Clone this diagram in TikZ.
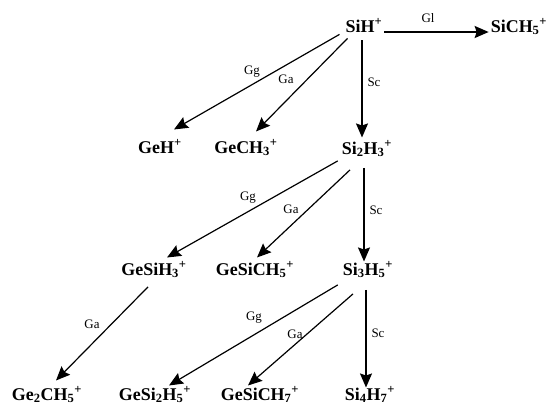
\documentclass[tikz,border=0pt]{standalone}
\usepackage{fontspec}
\setmainfont{Liberation Serif}
\usetikzlibrary{arrows.meta}

\begin{document}
\begin{tikzpicture}[x=1bp, y=-1bp, % coordenadas en pixeles, y hacia abajo
    ion/.style={font=\fontsize{18}{21}\selectfont\bfseries, inner sep=2bp, anchor=base},
    lbl/.style={font=\fontsize{13}{15}\selectfont, inner sep=1bp},
    rxn/.style={-{Stealth[length=14bp, width=12bp, inset=2bp]}, line width=1.2bp}]

    \useasboundingbox (0,0) rectangle (550,408);

    % 1. Iones (anclados en la linea base)
    \node[ion] (sih)     at (364,32)  {SiH\textsuperscript{+}};
    \node[ion] (sich)    at (519,32)  {SiCH\textsubscript{5}\textsuperscript{+}};
    \node[ion] (geh)     at (160,153) {GeH\textsuperscript{+}};
    \node[ion] (gech)    at (246,153) {GeCH\textsubscript{3}\textsuperscript{+}};
    \node[ion] (sidos)   at (367,154) {Si\textsubscript{2}H\textsubscript{3}\textsuperscript{+}};
    \node[ion] (gesih)   at (154,275) {GeSiH\textsubscript{3}\textsuperscript{+}};
    \node[ion] (gesich)  at (255,275) {GeSiCH\textsubscript{5}\textsuperscript{+}};
    \node[ion] (sitres)  at (368,275) {Si\textsubscript{3}H\textsubscript{5}\textsuperscript{+}};
    \node[ion] (gedos)   at (47,400)  {Ge\textsubscript{2}CH\textsubscript{5}\textsuperscript{+}};
    \node[ion] (gesidos) at (155,400) {GeSi\textsubscript{2}H\textsubscript{5}\textsuperscript{+}};
    \node[ion] (gesiche) at (260,400) {GeSiCH\textsubscript{7}\textsuperscript{+}};
    \node[ion] (sicuat)  at (370,400) {Si\textsubscript{4}H\textsubscript{7}\textsuperscript{+}};

    % 2. Reacciones desde SiH+
    \draw[rxn, line width=1.8bp] (sih.base east) -- (sich.base west);
    \draw[rxn] ([shift={(-4,0)}]sih.south west) -- ([shift={(14,-8)}]geh.north);
    \draw[rxn] ([shift={(4,4)}]sih.south west) -- ([shift={(10,-6)}]gech.north);
    \draw[rxn] ([shift={(-2,6)}]sih.south) -- ([shift={(-5,-1)}]sidos.north);

    % 3. Reacciones desde Si2H3+
    \draw[rxn] ([shift={(-2,2)}]sidos.south west) -- ([shift={(13,-2)}]gesih.north);
    \draw[rxn] ([shift={(-17,11)}]sidos.south) -- ([shift={(2,-2)}]gesich.north);
    \draw[rxn] ([shift={(-3,9)}]sidos.south) -- ([shift={(-4,2)}]sitres.north);

    % 4. Reacciones desde GeSiH3+ y Si3H5+
    \draw[rxn] ([shift={(-6,7)}]gesih.south) -- ([shift={(9,-4)}]gedos.north);
    \draw[rxn] ([shift={(-3,5)}]sitres.south west) -- ([shift={(14,1)}]gesidos.north);
    \draw[rxn] ([shift={(-15,14)}]sitres.south) -- ([shift={(-12,1)}]gesiche.north);
    \draw[rxn] ([shift={(-2,10)}]sitres.south) -- ([shift={(-4,3)}]sicuat.north);

    % 5. Etiquetas de los canales
    \node[lbl] (gl)   at (428,18)  {Gl};
    \node[lbl] (gga)  at (252,72)  {Gg};
    \node[lbl] (gaa)  at (286,79)  {Ga};
    \node[lbl] (sca)  at (374,82)  {Sc};
    \node[lbl] (ggb)  at (248,198) {Gg};
    \node[lbl] (gab)  at (291,209) {Ga};
    \node[lbl] (scb)  at (376,210) {Sc};
    \node[lbl] (gac)  at (92,324)  {Ga};
    \node[lbl] (ggc)  at (254,318) {Gg};
    \node[lbl] (gad)  at (295,334) {Ga};
    \node[lbl] (scc)  at (378,333) {Sc};

\end{tikzpicture}
\end{document}
